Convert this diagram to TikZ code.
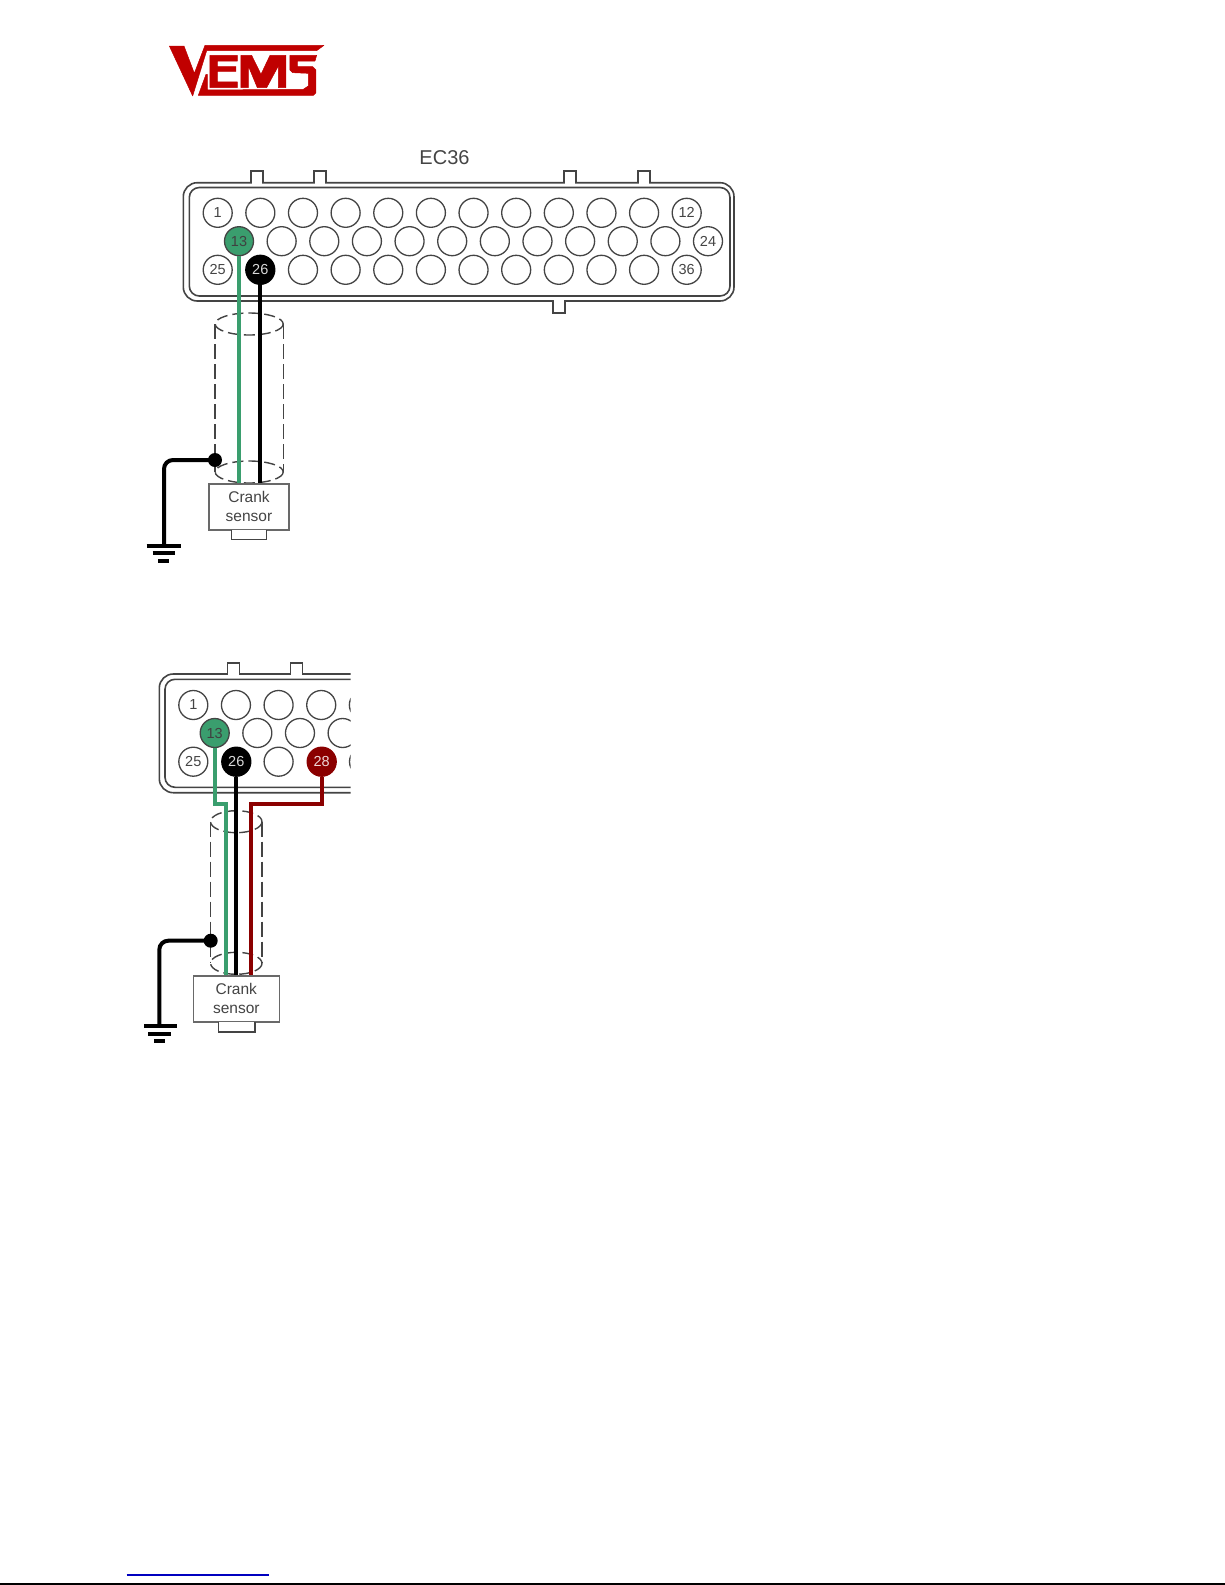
\documentclass[tikz,border=0pt]{standalone}
\usepackage{fontspec}
\setmainfont{Liberation Sans}
\definecolor{vemsred}{HTML}{C00000}
\definecolor{wiregreen}{HTML}{3A9E6E}
\definecolor{wirered}{HTML}{8B0000}
\definecolor{inkgrey}{HTML}{444444}
\tikzset{
  pin/.style={circle,draw=inkgrey,line width=1.3pt,minimum size=29pt,inner sep=0pt,fill=white,text=inkgrey,font=\fontsize{14.5}{14.5}\selectfont},
  pingreen/.style={pin,fill=wiregreen,text=black!75},
  pinblack/.style={pin,fill=black,draw=black,text=white!85!black},
  pinmaroon/.style={pin,fill=wirered,draw=wirered,text=white!85!wirered},
  shell/.style={draw=inkgrey,line width=1.6pt},
  shield/.style={draw=inkgrey,line width=1.4pt,dash pattern=on 15pt off 5pt},
  shieldend/.style={draw=inkgrey,line width=1.4pt,dash pattern=on 11pt off 5pt},
  wire/.style={line width=4pt},
  gndwire/.style={line width=4pt,black,rounded corners=9pt},
  gndbar/.style={line width=4pt,black},
  dotnode/.style={circle,fill=black,minimum size=14pt,inner sep=0pt},
  sensorbox/.style={draw=inkgrey!80,line width=1.3pt,fill=white,text=inkgrey,align=center,inner sep=0pt,font=\fontsize{15.5}{19.5}\selectfont},
  plug/.style={draw=inkgrey,line width=1.2pt,fill=white},
}
\begin{document}
\begin{tikzpicture}[x=1pt,y=-1pt]
\useasboundingbox (0,0) rectangle (1225,1585);
\fill[white] (0,0) rectangle (1225,1585);

% logo
\filldraw[fill=vemsred,draw=vemsred,line width=.5pt,line join=round,shift={(160,36)},x=0.3333pt,y=-0.3333pt]
  (28,30)--(72,30)--(103,112)--(135,28)--(492,28)--(470,44)--(140,44)--(98,180)--cycle
  (115,178)--(138,115)--(142,115)--(142,162)--(430,160)--(445,150)--(445,112)--(398,110)--(390,102)--(390,58)--(470,58)--(465,75)--(412,75)--(412,92)--(458,92)--(468,102)--(468,170)--(460,178)--cycle
  (150,58)--(232,58)--(232,75)--(172,75)--(172,92)--(228,92)--(228,106)--(172,106)--(172,138)--(232,138)--(232,155)--(150,155)--cycle
  (243,155)--(243,58)--(275,58)--(303,115)--(330,58)--(378,58)--(378,155)--(355,155)--(355,90)--(320,155)--(292,155)--(265,90)--(265,155)--cycle;

% first connector
\node[text=inkgrey,font=\fontsize{20}{20}\selectfont] (ectitle) at (444.5,158) {EC36};
\draw[shell,rounded corners=14pt] (183.3,182.7) rectangle (734,301);
\draw[shell,rounded corners=10pt] (189.3,187.5) rectangle (730,296);
\foreach \a in {251,314,564,637.7}{
  \draw[white,line width=2.5pt] (\a+.8,182.7)--(\a+11.2,182.7);
  \draw[shell] (\a,182.7)--(\a,170.7)--(\a+12,170.7)--(\a+12,182.7);
}
\draw[white,line width=2.5pt] (553.5,301)--(564.2,301);
\draw[shell] (552.7,301)--(552.7,312.7)--(565,312.7)--(565,301);

\node[pin] (a1) at (217.7,212.8) {1};
\foreach \k [count=\n from 2] in {1,...,10}{\node[pin] (a\n) at (217.7+42.64*\k,212.8) {};}
\node[pin] (a12) at (686.7,212.8) {12};
\node[pingreen] (a13) at (239,241.2) {13};
\foreach \k [count=\n from 14] in {1,...,10}{\node[pin] (a\n) at (239+42.64*\k,241.2) {};}
\node[pin] (a24) at (708,241.2) {24};
\node[pin] (a25) at (217.7,269.8) {25};
\node[pinblack] (a26) at (260.3,269.8) {26};
\foreach \k [count=\n from 27] in {2,...,10}{\node[pin] (a\n) at (217.7+42.64*\k,269.8) {};}
\node[pin] (a36) at (686.7,269.8) {36};

% first sensor
\draw[shieldend] (249.2,324) ellipse [x radius=34,y radius=11];
\draw[shield] (215,324)--(215,472);
\draw[shield] (283.3,324)--(283.3,472);
\draw[shieldend] (249.2,472) ellipse [x radius=34,y radius=11];
\node[sensorbox,minimum width=80pt,minimum height=46pt] (s1) at (249,507) {\raisebox{1pt}{Crank}\\[-.5pt]\raisebox{1pt}{sensor}};
\draw[plug] (231.7,530)--(231.7,539.3)--(266.7,539.3)--(266.7,530);
\draw[wire,wiregreen] (a13.south)--(a13.south |- s1.north);
\draw[wire,black] (a26.south)--(a26.south |- s1.north);
\node[dotnode] (d1) at (215,460) {};
\coordinate (g1) at (164,545.5);
\draw[gndwire] (d1.center)-|(g1);
\draw[gndbar] (146.7,545.5)--(181,545.5);
\draw[gndbar] (152.7,553)--(175,553);
\draw[gndbar] (158,560.7)--(169,560.7);

% second connector
\draw[shell,rounded corners=14pt] (350.7,674)--(159.3,674)--(159.3,792.7)--(350.7,792.7);
\draw[shell,rounded corners=10pt] (350.7,679.3)--(165,679.3)--(165,787.3)--(350.7,787.3);
\foreach \a in {227.3,290.3}{
  \draw[white,line width=2.5pt] (\a+.8,674)--(\a+11.2,674);
  \draw[shell] (\a,674)--(\a,662.7)--(\a+12,662.7)--(\a+12,674);
}
\begin{scope}
\clip (0,640) rectangle (350.7,800);
\node[pin] (b1) at (193.3,705) {1};
\foreach \k [count=\n from 2] in {1,...,4}{\node[pin] (b\n) at (193.3+42.64*\k,705) {};}
\foreach \k [count=\n from 14] in {1,...,3}{\node[pin] (b\n) at (214.7+42.64*\k,733) {};}
\node[pin] (b27) at (278.6,761.7) {};
\node[pin] (b29) at (364,761.7) {};
\end{scope}
\node[pingreen] (b13) at (214.7,733) {13};
\node[pin] (b25) at (193.3,761.7) {25};
\node[pinblack] (b26) at (236.3,761.7) {26};
\node[pinmaroon] (b28) at (321.7,761.7) {28};

% second sensor
\draw[shieldend] (236.3,821.7) ellipse [x radius=25.7,y radius=11];
\draw[shield] (210.7,821.7)--(210.7,963.3);
\draw[shield] (262,821.7)--(262,963.3);
\draw[shieldend] (236.3,963.3) ellipse [x radius=25.7,y radius=11];
\node[sensorbox,minimum width=86pt,minimum height=46pt] (s2) at (236.3,999) {\raisebox{1pt}{Crank}\\[-.5pt]\raisebox{1pt}{sensor}};
\draw[plug] (218.3,1022)--(218.3,1032)--(255,1032)--(255,1022);
\coordinate (gw) at (226,804);
\coordinate (rw) at (250.7,804);
\draw[wire,wiregreen] (b13.south)|-(gw)--(gw |- s2.north);
\draw[wire,black] (b26.south)--(b26.south |- s2.north);
\draw[wire,wirered] (b28.south)|-(rw)--(rw |- s2.north);
\node[dotnode] (d2) at (210.7,940.7) {};
\coordinate (g2) at (159.3,1026);
\draw[gndwire] (d2.center)-|(g2);
\draw[gndbar] (144,1026)--(176.7,1026);
\draw[gndbar] (148,1033.7)--(170.7,1033.7);
\draw[gndbar] (154,1041)--(165.3,1041);

% footer
\draw[blue!75!black,line width=1.3pt] (126.7,1575)--(269,1575);
\draw[black,line width=1.5pt] (0,1584)--(1225,1584);
\end{tikzpicture}
\end{document}
